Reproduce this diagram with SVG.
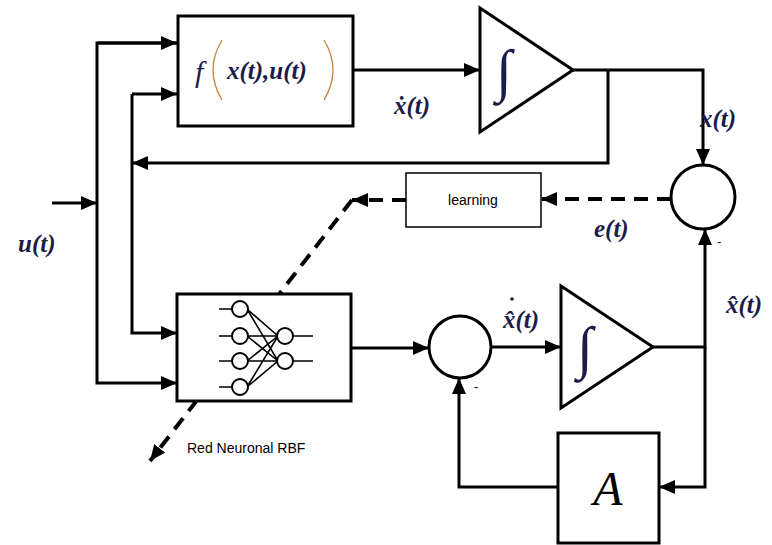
<svg xmlns="http://www.w3.org/2000/svg" width="772" height="545" viewBox="0 0 772 545">
<style>
.ln{fill:none;stroke:#000;stroke-width:3}
.dash{fill:none;stroke:#000;stroke-width:4;stroke-dasharray:14 9}
.box{fill:#fff;stroke:#000;stroke-width:3}
.thin{fill:#fff;stroke:#000;stroke-width:1.5}
.lbl{font-family:'Liberation Serif','Times New Roman',serif;font-style:italic;font-weight:bold;font-size:25px;fill:#1c1c4a}
.int{font-family:'Liberation Serif',serif;font-size:58px;fill:#1c1c4a}
.sans{font-family:'Liberation Sans',Arial,sans-serif;font-size:14px;fill:#000}
.nn{fill:#fff;stroke:#000;stroke-width:2}
.nl{stroke:#000;stroke-width:1.6;fill:none}
</style>
<defs>
<marker id="ah" markerUnits="userSpaceOnUse" markerWidth="18" markerHeight="14" refX="16" refY="7" orient="auto">
<path d="M0,0 L16,7 L0,14 Z" fill="#000"/>
</marker>
</defs>
<rect width="772" height="545" fill="#fff"/>
<g id="connectors">
<path class="ln" d="M52,203 H97" marker-end="url(#ah)"/>
<path class="ln" d="M178,43 H97 V383 H177" marker-end="url(#ah)"/>
<path class="ln" d="M97,43 H177" marker-end="url(#ah)"/>
<path class="ln" d="M132,94 H177" marker-end="url(#ah)"/>
<path class="ln" d="M132,94 V333 H177" marker-end="url(#ah)"/>
<path class="ln" d="M353,70 H480" marker-end="url(#ah)"/>
<path class="ln" d="M573,70 H703 V165" marker-end="url(#ah)"/>
<path class="ln" d="M608,70 V163 H132" marker-end="url(#ah)"/>
<path class="dash" d="M671,199 H541" marker-end="url(#ah)"/>
<path class="dash" d="M406,200 H352" marker-end="url(#ah)"/>
<path class="dash" d="M352,200 L150,461" marker-end="url(#ah)"/>
<path class="ln" d="M351,348 H429" marker-end="url(#ah)"/>
<path class="ln" d="M491,347 H561" marker-end="url(#ah)"/>
<path class="ln" d="M653,347 H705 V229" marker-end="url(#ah)"/>
<path class="ln" d="M705,347 V487 H659" marker-end="url(#ah)"/>
<path class="ln" d="M558,487 H459 V378" marker-end="url(#ah)"/>
</g>
<g id="f_block">
<rect class="box" x="178" y="16" width="175" height="110"/>
<text x="195" y="82" style="font-family:'Liberation Serif',serif;font-style:italic;font-size:30px;fill:#1c1c4a">f</text>
<path d="M222,40 Q204,70 222,100" fill="none" stroke="#c8803a" stroke-width="1.3"/>
<path d="M324,40 Q342,70 324,100" fill="none" stroke="#c8803a" stroke-width="1.3"/>
<text x="227" y="79" style="font-family:'Liberation Serif',serif;font-style:italic;font-weight:bold;font-size:25px;fill:#1c1c4a">x(t),u(t)</text>
</g>
<g id="integrator1">
<path class="ln" d="M480,8 L573,70 L480,132 Z" fill="#fff"/>
<text class="int" x="496" y="90">∫</text>
</g>
<g id="sum1">
<circle class="ln" cx="703" cy="197" r="32" fill="#fff"/>
<text class="sans" x="717" y="246" style="font-size:13px">-</text>
</g>
<g id="learning">
<rect class="thin" x="406" y="173" width="135" height="54"/>
<text class="sans" x="473" y="205" text-anchor="middle">learning</text>
</g>
<g id="rbf">
<rect class="box" x="177" y="294" width="174" height="107"/>
<g>
<path class="nl" d="M219,309 H232 M219,336 H232 M219,361 H232 M219,387 H232 M293,336 H313 M293,361 H313"/>
<path class="nl" d="M247,309 L278,336 M247,309 L278,361 M247,336 L278,336 M247,336 L278,361 M247,361 L278,336 M247,361 L278,361 M247,387 L278,336 M247,387 L278,361"/>
<circle class="nn" cx="240" cy="309" r="8"/>
<circle class="nn" cx="240" cy="336" r="8"/>
<circle class="nn" cx="240" cy="361" r="8"/>
<circle class="nn" cx="240" cy="387" r="8"/>
<circle class="nn" cx="285" cy="336" r="8"/>
<circle class="nn" cx="285" cy="361" r="8"/>
</g>
</g>
<g id="sum2">
<circle class="ln" cx="460" cy="347" r="31" fill="#fff"/>
<text class="sans" x="474" y="391" style="font-size:13px">-</text>
</g>
<g id="integrator2">
<path class="ln" d="M561,286 L653,347 L561,408 Z" fill="#fff"/>
<text class="int" x="577" y="367">∫</text>
</g>
<g id="A_block">
<rect class="box" x="558" y="433" width="101" height="110"/>
<text x="608" y="505" text-anchor="middle" style="font-family:'Liberation Serif',serif;font-style:italic;font-size:48px;fill:#000">A</text>
</g>
<g id="labels">
<text class="lbl" x="18" y="252">u(t)</text>
<text class="lbl" x="394" y="114">ẋ(t)</text>
<text class="lbl" x="700" y="127">x(t)</text>
<text class="lbl" x="594" y="237">e(t)</text>
<text class="lbl" x="726" y="313">x̂(t)</text>
<text class="lbl" x="503" y="328">x̂(t)</text>
<circle cx="512" cy="299" r="1.8" fill="#1c1c4a"/>
<text class="sans" x="187" y="453">Red Neuronal RBF</text>
</g>
</svg>
